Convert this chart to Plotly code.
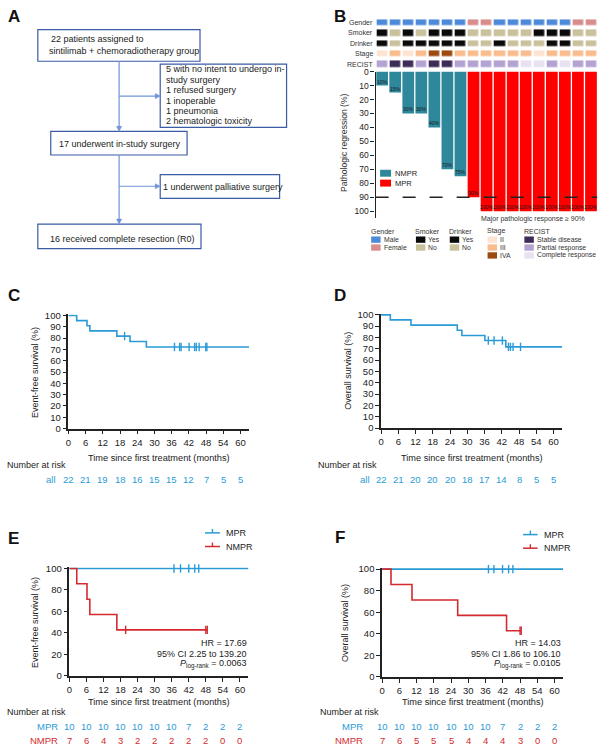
import plotly.graph_objects as go

W, H = 600, 754
FONT = "Liberation Sans, Arial, sans-serif"
INK = "#222222"
KM_BLUE = "#2A9BD6"
KM_RED = "#D42A2F"
TEAL = "#2E879A"
BAR_RED = "#FF0000"
BOX_BLUE = "#3B5BA5"
LINK_BLUE = "#6F93D6"

# ------------------------------------------------------------------ data
# Panel A (flowchart)
flow_box1 = ["22 patients assigned to", "sintilimab + chemoradiotherapy group"]
flow_box2 = ["5 with no intent to undergo in-", "study surgery", "1 refused surgery",
             "1 inoperable", "1 pneumonia", "2 hematologic toxicity"]
flow_box3 = ["17 underwent in-study surgery"]
flow_box4 = ["1 underwent palliative surgery"]
flow_box5 = ["16 received complete resection (R0)"]

# Panel B (waterfall + annotation heatmap)
patients = list(range(17))
regression = [10, 15, 30, 30, 40, 70, 75, 90, 100, 100, 100, 100, 100, 100, 100, 100, 100]
response = ["NMPR"] * 7 + ["MPR"] * 10
gender = ["Male"] * 7 + ["Female"] * 2 + ["Male"] * 6 + ["Female"] * 2
smoker = ["Yes", "No", "Yes", "No", "Yes", "Yes", "Yes", "No", "No", "No", "No", "No",
          "Yes", "Yes", "Yes", "No", "No"]
drinker = ["Yes", "No", "Yes", "Yes", "Yes", "Yes", "Yes", "No", "No", "Yes", "No", "No",
           "No", "Yes", "Yes", "No", "No"]
stage = ["II", "III", "II", "III", "IVA", "IVA", "III", "III", "III", "III", "III", "III",
         "II", "III", "III", "III", "III"]
recist = ["PR", "SD", "SD", "PR", "SD", "SD", "PR", "PR", "PR", "PR", "PR", "CR", "CR",
          "PR", "CR", "PR", "PR"]
track_names = ["Gender", "Smoker", "Drinker", "Stage", "RECIST"]
mpr_threshold = 90

# Panel C (EFS, all)
c_time = [0, 2.9, 6.5, 7.5, 16.9, 21.5, 27.2, 63]
c_surv = [100, 95.5, 90.9, 86.4, 81.8, 77.0, 72.2, 72.2]
c_cens_time = [19.6, 37.0, 38.8, 39.3, 42.1, 44.0, 44.6, 45.6, 47.9, 48.3]
c_cens_surv = [81.8, 72.2, 72.2, 72.2, 72.2, 72.2, 72.2, 72.2, 72.2, 72.2]
c_risk = [22, 21, 19, 18, 16, 15, 15, 12, 7, 5, 5]

# Panel D (OS, all)
d_time = [0, 3.2, 10.4, 26.5, 28.1, 36.1, 43.4, 63]
d_surv = [100, 95.5, 90.9, 86.4, 81.8, 77.3, 71.7, 71.7]
d_cens_time = [37.3, 39.3, 42.2, 44.3, 45.0, 45.9, 48.5]
d_cens_surv = [77.3, 77.3, 77.3, 71.7, 71.7, 71.7, 71.7]
d_risk = [22, 21, 20, 20, 20, 18, 17, 14, 8, 5, 5]

# Panel E (EFS by response)
e_mpr_time = [0, 63]
e_mpr_surv = [100, 100]
e_mpr_cens_time = [36.8, 39.1, 42.0, 44.1, 45.5]
e_mpr_cens_surv = [100, 100, 100, 100, 100]
e_nmpr_time = [0, 2.6, 6.2, 7.2, 16.7, 48.5]
e_nmpr_surv = [100, 85.7, 71.4, 57.1, 42.9, 42.9]
e_nmpr_cens_time = [19.8, 48.0, 48.5]
e_nmpr_cens_surv = [42.9, 42.9, 42.9]
e_risk_mpr = [10, 10, 10, 10, 10, 10, 10, 7, 2, 2, 2]
e_risk_nmpr = [7, 6, 4, 3, 2, 2, 2, 2, 2, 0, 0]
e_stats = ["HR = 17.69", "95% CI 2.25 to 139.20", "<i>P</i><sub>log-rank</sub> = 0.0063"]

# Panel F (OS by response)
f_mpr_time = [0, 63]
f_mpr_surv = [100, 100]
f_mpr_cens_time = [37.0, 38.9, 41.9, 44.0, 45.5]
f_mpr_cens_surv = [100, 100, 100, 100, 100]
f_nmpr_time = [0, 3.1, 10.4, 26.3, 43.3, 48.2]
f_nmpr_surv = [100, 85.7, 71.4, 57.1, 42.9, 42.9]
f_nmpr_cens_time = [48.0, 48.4]
f_nmpr_cens_surv = [42.9, 42.9]
f_risk_mpr = [10, 10, 10, 10, 10, 10, 10, 7, 2, 2, 2]
f_risk_nmpr = [7, 6, 5, 5, 5, 4, 4, 4, 3, 0, 0]
f_stats = ["HR = 14.03", "95% CI 1.86 to 106.10", "<i>P</i><sub>log-rank</sub> = 0.0105"]

risk_times = [0, 6, 12, 18, 24, 30, 36, 42, 48, 54, 60]

# ------------------------------------------------------------------ helpers
def X(p):
    return p / W


def Y(p):
    return 1 - p / H


fig = go.Figure()
ann = []
shapes = []


def text(x, y, s, size=9, anchor="left", color=INK, vanchor="middle", angle=0):
    ann.append(dict(x=X(x), y=Y(y), xref="paper", yref="paper",
                    text=s, showarrow=False, xanchor=anchor, yanchor=vanchor,
                    textangle=angle, font=dict(family=FONT, size=size, color=color)))


def rect(x0, y0, x1, y1, line=None, fill=None, lw=1.2):
    shapes.append(dict(type="rect", xref="paper", yref="paper", x0=X(x0), x1=X(x1),
                       y0=Y(y1), y1=Y(y0),
                       line=dict(color=line or "rgba(0,0,0,0)", width=lw if line else 0),
                       fillcolor=fill or "rgba(0,0,0,0)", layer="above"))


def seg(x0, y0, x1, y1, color, lw=1.2, dash="solid"):
    shapes.append(dict(type="line", xref="paper", yref="paper", x0=X(x0), x1=X(x1),
                       y0=Y(y0), y1=Y(y1), line=dict(color=color, width=lw, dash=dash),
                       layer="above"))


def tri(pts, color):
    path = "M " + " L ".join(f"{X(a):.5f},{Y(b):.5f}" for a, b in pts) + " Z"
    shapes.append(dict(type="path", xref="paper", yref="paper", path=path,
                       fillcolor=color, line=dict(color=color, width=0.5), layer="above"))


def arrow_down(x, y0, y1):
    seg(x, y0, x, y1 - 4, LINK_BLUE)
    tri([(x - 2.6, y1 - 5), (x + 2.6, y1 - 5), (x, y1)], LINK_BLUE)


def arrow_right(y, x0, x1):
    seg(x0, y, x1 - 4, y, LINK_BLUE)
    tri([(x1 - 5, y - 2.6), (x1 - 5, y + 2.6), (x1, y)], LINK_BLUE)


# ------------------------------------------------------------------ panel labels
for lab, (lx, ly) in {"A": (3, 12), "B": (331, 12), "C": (3, 294), "D": (331, 294),
                      "E": (3, 541), "F": (332, 540)}.items():
    text(lx, ly, f"<b>{lab}</b>", size=17, color="#111")

# ------------------------------------------------------------------ panel A
rect(35, 25, 198, 57, BOX_BLUE)
rect(158, 60, 285, 124, BOX_BLUE)
rect(48, 128, 185, 152, BOX_BLUE)
rect(158, 172, 278, 196, BOX_BLUE)
rect(35, 222, 199, 247, BOX_BLUE)

for i, s in enumerate(flow_box1):
    text(44.5 + (1.5 if i == 0 else 0), 34.7 + 12.3 * i, s, size=9)
for i, s in enumerate(flow_box2):
    text(161.5, 65 + 10.6 * i, s, size=9)
text(54.5, 141, flow_box3[0], size=9)
text(158.5, 184.3, flow_box4[0], size=9)
text(45, 236.7, flow_box5[0], size=9)

arrow_down(116.7, 57, 128)
arrow_right(92.3, 116.7, 158)
arrow_down(116.7, 152, 222)
arrow_right(183.7, 116.7, 158)

# ------------------------------------------------------------------ panel B
bar_colors = [TEAL if g == "NMPR" else BAR_RED for g in response]
fig.add_trace(go.Bar(x=patients, y=regression, marker=dict(color=bar_colors, line=dict(width=0)),
                     width=0.9, xaxis="x", yaxis="y", showlegend=False, hoverinfo="skip"))
for i, v in zip(patients, regression):
    ann.append(dict(x=i, y=v, xref="x", yref="y", text=f"{v}%", showarrow=False,
                    yanchor="bottom", xanchor="center", borderpad=0,
                    font=dict(family=FONT, size=5, color="#1a1a1a")))

shapes.append(dict(type="line", xref="x", yref="y", x0=-0.5, x1=16.5, y0=mpr_threshold,
                   y1=mpr_threshold, line=dict(color=INK, width=1.5, dash="13px,14px"),
                   layer="above"))

# heatmap tracks
code = {"Male": 0, "Female": 1, "Yes": 2, "No": 3, "II": 4, "III": 5, "IVA": 6,
        "SD": 7, "PR": 8, "CR": 9}
code_colors = ["#4D8ADA", "#D98C8C", "#0A0A0A", "#C9C19B", "#FDE3D2", "#F9BC8C",
               "#9C4A10", "#3D2B58", "#B3A2D2", "#E7E1F0"]
z = [[code[v] for v in gender], [code[v] for v in smoker], [code[v] for v in drinker],
     [code[v] for v in stage], [code[v] for v in recist]]
cs = []
for k, c in enumerate(code_colors):
    cs.append([k / 10, c])
    cs.append([(k + 1) / 10, c])
fig.add_trace(go.Heatmap(z=z, x=patients, y=list(range(5)), colorscale=cs, zmin=-0.5, zmax=9.5,
                         showscale=False, xgap=2.4, ygap=4.3, xaxis="x2", yaxis="y2",
                         hoverinfo="skip"))
row_y = [17.8, 28.3, 38.8, 49.3, 59.8]
for name, ry in zip(track_names, row_y):
    text(373.5, ry, name, size=7, anchor="right", color="#333")

# inner legend
rect(379, 167, 390, 174, fill=TEAL)
text(392, 170.5, "NMPR", size=7.5)
rect(379, 177, 390, 184, fill=BAR_RED)
text(392, 180.5, "MPR", size=7.5)

text(533, 216.5, "Major pathologic response ≥ 90%", size=7, anchor="center", color="#333")

# bottom legend
leg_cols = [
    ("Gender", 369, [("Male", code_colors[0]), ("Female", code_colors[1])]),
    ("Smoker", 414, [("Yes", code_colors[2]), ("No", code_colors[3])]),
    ("Drinker", 448, [("Yes", code_colors[2]), ("No", code_colors[3])]),
    ("Stage", 486, [("II", code_colors[4]), ("III", code_colors[5]), ("IVA", code_colors[6])]),
    ("RECIST", 523, [("Stable disease", code_colors[7]), ("Partial response", code_colors[8]),
                     ("Complete response", code_colors[9])]),
]
for head, lx, items in leg_cols:
    text(lx - 1.5, 229.5, head, size=7, color="#333")
    for j, (lab, col) in enumerate(items):
        yy = 237.8 + 8 * j
        rect(lx + 1, yy - 3.2, lx + 10.5, yy + 3.2, fill=col)
        text(lx + 11.5, yy, lab, size=6.8, color="#333")

fig.update_layout(
    xaxis=dict(domain=[X(374.5), X(597.5)], range=[-0.5, 16.5], visible=False, anchor="y"),
    yaxis=dict(domain=[Y(216.1), Y(67.5)], range=[105, 0], anchor="x",
               tickvals=list(range(0, 101, 10)),
               ticks="outside", ticklen=4, tickwidth=1.3, tickcolor=INK, showline=True,
               linecolor=INK, linewidth=1.4, showgrid=False, zeroline=False,
               tickfont=dict(family=FONT, size=8.5, color=INK)),
    xaxis2=dict(domain=[X(374.5), X(597.5)], range=[-0.5, 16.5], visible=False, anchor="y2"),
    yaxis2=dict(domain=[Y(65.05), Y(12.55)], range=[4.5, -0.5], visible=False, anchor="x2"),
)
text(342.5, 139, "Pathologic regression (%)", size=8.6, anchor="center", angle=-90, color="#333")


# ------------------------------------------------------------------ KM panels
def km_axes(n, x0, x1, ybot, ytop, dtick):
    ax = dict(domain=[X(x0), X(x1)], range=[0, 63], tickvals=risk_times, ticks="outside",
              ticklen=4, tickwidth=1.3, tickcolor=INK, showline=True, linecolor=INK,
              linewidth=1.5, showgrid=False, zeroline=False, anchor=f"y{n}",
              tickfont=dict(family=FONT, size=9.5, color=INK))
    span = ybot - ytop
    ay = dict(domain=[Y(ybot), Y(ytop - span * 0.01)], range=[0, 101],
              tickvals=list(range(0, 101, dtick)), ticks="outside", ticklen=4, tickwidth=1.3,
              tickcolor=INK, showline=True, linecolor=INK, linewidth=1.5, showgrid=False,
              zeroline=False, anchor=f"x{n}", tickfont=dict(family=FONT, size=9.5, color=INK))
    fig.update_layout({f"xaxis{n}": ax, f"yaxis{n}": ay})


def km_curve(n, t, s, ct, cs_, color):
    fig.add_trace(go.Scatter(x=t, y=s, mode="lines", line=dict(color=color, width=1.6, shape="hv"),
                             xaxis=f"x{n}", yaxis=f"y{n}", showlegend=False, hoverinfo="skip"))
    fig.add_trace(go.Scatter(x=ct, y=cs_, mode="markers",
                             marker=dict(symbol="line-ns", size=6, color=color,
                                         line=dict(color=color, width=1.4)),
                             xaxis=f"x{n}", yaxis=f"y{n}", showlegend=False, hoverinfo="skip",
                             cliponaxis=False))


def risk_row(n, counts, ypx, color):
    for t, c in zip(risk_times, counts):
        ann.append(dict(x=t, y=Y(ypx), xref=f"x{n}", yref="paper", text=str(c), showarrow=False,
                        xanchor="center", yanchor="middle",
                        font=dict(family=FONT, size=9.5, color=color)))


# C
km_axes(3, 65.7, 247.3, 429.3, 314.7, 10)
km_curve(3, c_time, c_surv, c_cens_time, c_cens_surv, KM_BLUE)
text(32, 372, "Event-free survival (%)", size=9, anchor="center", angle=-90)
text(156.5, 459, "Time since first treatment (months)", size=9.2, anchor="center")
text(2, 466, "Number at risk", size=9)
text(55.5, 481, "all", size=9.5, anchor="right", color=KM_BLUE)
risk_row(3, c_risk, 481, KM_BLUE)

# D
km_axes(4, 380, 562, 428.7, 314, 10)
km_curve(4, d_time, d_surv, d_cens_time, d_cens_surv, KM_BLUE)
text(346.5, 371, "Overall survival (%)", size=9, anchor="center", angle=-90)
text(471, 459, "Time since first treatment (months)", size=9.2, anchor="center")
text(315, 466, "Number at risk", size=9)
text(370.5, 481, "all", size=9.5, anchor="right", color=KM_BLUE)
risk_row(4, d_risk, 481, KM_BLUE)

# E
km_axes(5, 66.7, 246.7, 680, 571, 20)
km_curve(5, e_mpr_time, e_mpr_surv, e_mpr_cens_time, e_mpr_cens_surv, KM_BLUE)
km_curve(5, e_nmpr_time, e_nmpr_surv, e_nmpr_cens_time, e_nmpr_cens_surv, KM_RED)
text(32, 625.5, "Event-free survival (%)", size=9, anchor="center", angle=-90)
text(156.7, 706.7, "Time since first treatment (months)", size=9.2, anchor="center")
text(2, 716.7, "Number at risk", size=9)
text(57.5, 731, "MPR", size=9.5, anchor="right", color=KM_BLUE)
text(57.5, 745.7, "NMPR", size=9.5, anchor="right", color=KM_RED)
risk_row(5, e_risk_mpr, 731, KM_BLUE)
risk_row(5, e_risk_nmpr, 745.7, KM_RED)
for i, s in enumerate(e_stats):
    text(247.5, 646.7 + 10.8 * i, s, size=9, anchor="right")

# F
km_axes(6, 381, 563, 681, 571.7, 20)
km_curve(6, f_mpr_time, f_mpr_surv, f_mpr_cens_time, f_mpr_cens_surv, KM_BLUE)
km_curve(6, f_nmpr_time, f_nmpr_surv, f_nmpr_cens_time, f_nmpr_cens_surv, KM_RED)
text(343, 626, "Overall survival (%)", size=9, anchor="center", angle=-90)
text(472, 706.7, "Time since first treatment (months)", size=9.2, anchor="center")
text(317, 716.7, "Number at risk", size=9)
text(364, 731, "MPR", size=9.5, anchor="right", color=KM_BLUE)
text(364, 745.7, "NMPR", size=9.5, anchor="right", color=KM_RED)
risk_row(6, f_risk_mpr, 731, KM_BLUE)
risk_row(6, f_risk_nmpr, 745.7, KM_RED)
for i, s in enumerate(f_stats):
    text(563, 646.7 + 10.8 * i, s, size=9, anchor="right")

# KM legends (E, F)
for (lx0, lx1, ly0, tx) in [(203, 218, 535, 222), (522.7, 537.3, 536.7, 541.5)]:
    for j, (lab, col) in enumerate([("MPR", KM_BLUE), ("NMPR", KM_RED)]):
        yy = ly0 + 13.8 * j
        seg(lx0, yy, lx1, yy, col, lw=1.5)
        seg((lx0 + lx1) / 2, yy, (lx0 + lx1) / 2, yy - 4, col, lw=1.4)
        text(tx, yy, lab, size=9)

fig.update_layout(
    width=W, height=H, margin=dict(l=0, r=0, t=0, b=0),
    paper_bgcolor="white", plot_bgcolor="white", showlegend=False,
    bargap=0.1, annotations=ann, shapes=shapes,
    font=dict(family=FONT, color=INK),
)

fig.write_html("out.html")
